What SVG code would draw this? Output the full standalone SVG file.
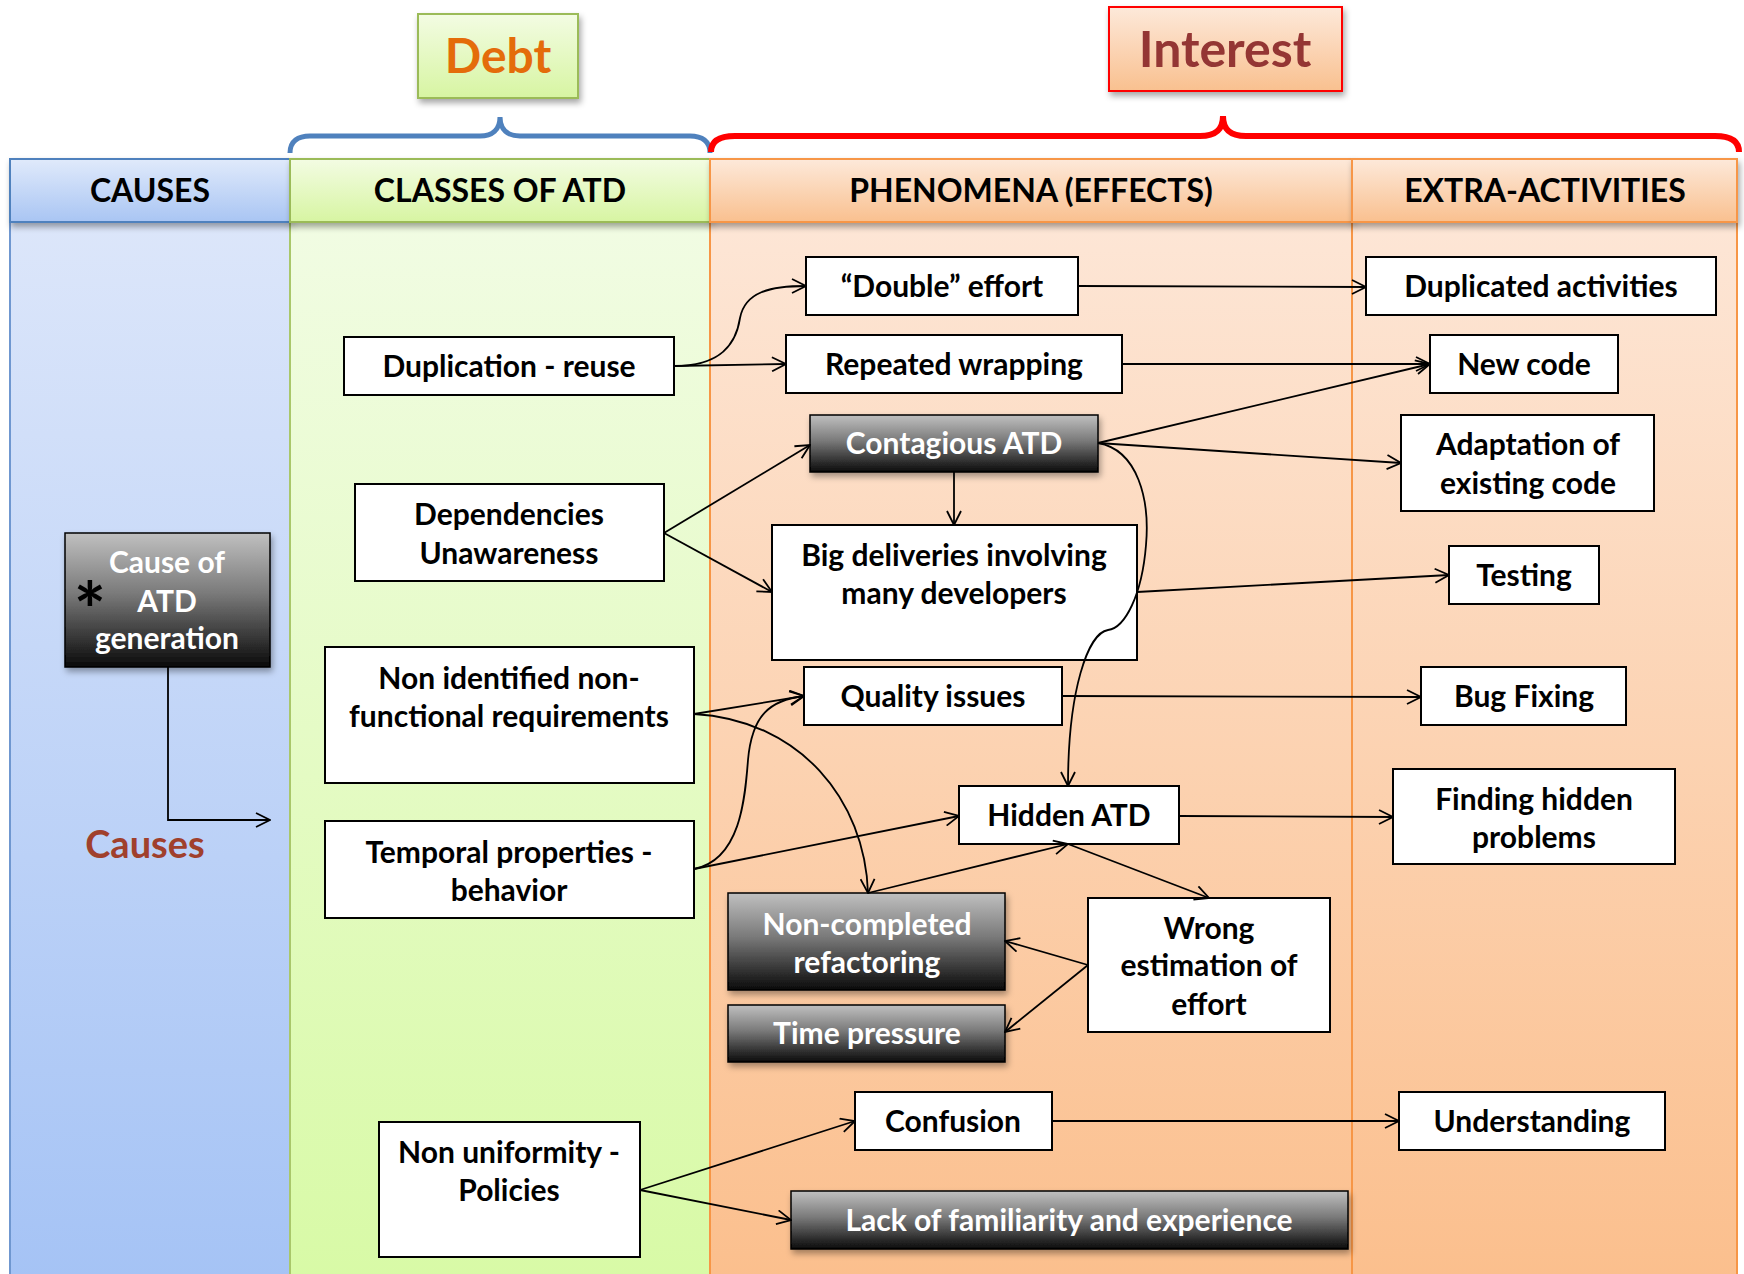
<svg xmlns="http://www.w3.org/2000/svg" width="1744" height="1274" viewBox="0 0 1744 1274">
<defs>
<linearGradient id="gBlueH" x1="0" y1="0" x2="0" y2="1"><stop offset="0" stop-color="#E0EAFB"/><stop offset="1" stop-color="#A9C5F3"/></linearGradient>
<linearGradient id="gGreenH" x1="0" y1="0" x2="0" y2="1"><stop offset="0" stop-color="#F3FCE3"/><stop offset="1" stop-color="#D7F5A2"/></linearGradient>
<linearGradient id="gOrangeH" x1="0" y1="0" x2="0" y2="1"><stop offset="0" stop-color="#FDE9DA"/><stop offset="1" stop-color="#F9C08F"/></linearGradient>
<linearGradient id="gBlueB" x1="0" y1="0" x2="0" y2="1"><stop offset="0" stop-color="#DCE6FA"/><stop offset="1" stop-color="#A5C3F5"/></linearGradient>
<linearGradient id="gGreenB" x1="0" y1="0" x2="0" y2="1"><stop offset="0" stop-color="#F1FCE3"/><stop offset="1" stop-color="#D8FAA6"/></linearGradient>
<linearGradient id="gOrangeB" x1="0" y1="0" x2="0" y2="1"><stop offset="0" stop-color="#FDE6D6"/><stop offset="1" stop-color="#FBBF8D"/></linearGradient>
<linearGradient id="gDark" x1="0" y1="0" x2="0" y2="1"><stop offset="0" stop-color="#C0C0C0"/><stop offset="0.45" stop-color="#7A7A7A"/><stop offset="1" stop-color="#0A0A0A"/></linearGradient>
<filter id="sh" x="-10%" y="-10%" width="130%" height="140%"><feDropShadow dx="2" dy="4" stdDeviation="3" flood-color="#000" flood-opacity="0.35"/></filter>
<marker id="arr" viewBox="0 0 16 16" refX="15" refY="8" markerWidth="16" markerHeight="16" markerUnits="userSpaceOnUse" orient="auto"><path d="M1,1 L15,8 L1,15" fill="none" stroke="#000" stroke-width="1.8"/></marker>
</defs>
<style>
.box{fill:#fff;stroke:#000;stroke-width:2}
.dark{fill:url(#gDark);stroke:#000;stroke-width:1.5;filter:url(#sh)}
.t{font-family:Lato,"Liberation Sans",sans-serif;font-weight:700;font-size:30px;text-anchor:middle;fill:#000}
.tw{fill:#fff}
.hd{font-family:Lato,"Liberation Sans",sans-serif;font-weight:700;font-size:32px;text-anchor:middle;fill:#000}
.conn path{stroke:#000;stroke-width:1.8;fill:none;marker-end:url(#arr)}
</style>
<rect width="1744" height="1274" fill="#fff"/>
<g id="columns">
<rect x="10" y="222" width="280" height="1060" fill="url(#gBlueB)" stroke="#6F97D0" stroke-width="2"/>
<rect x="290" y="222" width="420" height="1060" fill="url(#gGreenB)" stroke="#A9C76A" stroke-width="2"/>
<rect x="710" y="222" width="642" height="1060" fill="url(#gOrangeB)" stroke="#F79646" stroke-width="2"/>
<rect x="1352" y="222" width="385" height="1060" fill="url(#gOrangeB)" stroke="#F79646" stroke-width="2"/>
<rect x="10" y="159" width="280" height="63" fill="url(#gBlueH)" stroke="#4F81BD" stroke-width="2" filter="url(#sh)"/>
<rect x="290" y="159" width="420" height="63" fill="url(#gGreenH)" stroke="#9BBB59" stroke-width="2" filter="url(#sh)"/>
<rect x="710" y="159" width="642" height="63" fill="url(#gOrangeH)" stroke="#F79646" stroke-width="2" filter="url(#sh)"/>
<rect x="1352" y="159" width="385" height="63" fill="url(#gOrangeH)" stroke="#F79646" stroke-width="2" filter="url(#sh)"/>
<text class="hd" x="150" y="202">CAUSES</text>
<text class="hd" x="500" y="202">CLASSES OF ATD</text>
<text class="hd" x="1031" y="202">PHENOMENA (EFFECTS)</text>
<text class="hd" x="1545" y="202">EXTRA-ACTIVITIES</text>
</g>
<g id="debt">
<rect x="418" y="14" width="160" height="84" fill="url(#gGreenH)" stroke="#9BBB59" stroke-width="2" filter="url(#sh)"/>
<text x="498" y="73" style="font-family:Lato,'Liberation Sans',sans-serif;font-weight:700;font-size:48px;text-anchor:middle;fill:#E46C0A">Debt</text>
<path d="M290,153 C290,141 298,136 310,136 L480,136 C492,136 500,130 500,117 C500,130 508,136 520,136 L690,136 C702,136 710,141 710,153" fill="none" stroke="#4F81BD" stroke-width="5"/>
</g>
<g id="interest">
<rect x="1109" y="7" width="233" height="84" fill="url(#gOrangeH)" stroke="#FF0000" stroke-width="2" filter="url(#sh)"/>
<text x="1225" y="67" style="font-family:Lato,'Liberation Sans',sans-serif;font-weight:700;font-size:50px;text-anchor:middle;fill:#943634">Interest</text>
<path d="M711,152 C711,141 720,136 735,136 L1200,136 C1215,136 1223,130 1223,116 C1223,130 1231,136 1246,136 L1715,136 C1730,136 1739,141 1739,152" fill="none" stroke="#FF0000" stroke-width="6"/>
</g>
<g id="n-cause"><rect class="dark" x="65" y="533" width="205" height="134"/><text class="t tw" x="167" y="573">Cause of</text><text class="t tw" x="167" y="612">ATD</text><text class="t tw" x="167" y="649">generation</text><text x="90" y="638" style="font-family:Lato,'Liberation Sans',sans-serif;font-weight:700;font-size:76px;text-anchor:middle;fill:#000">*</text></g>
<g id="n-causes-label"><text x="145" y="858" style="font-family:Lato,'Liberation Sans',sans-serif;font-weight:700;font-size:38px;text-anchor:middle;fill:#A0402C">Causes</text></g>
<g id="n-dup"><rect class="box" x="344" y="337" width="330" height="58"/><text class="t" x="509" y="377">Duplication - reuse</text></g>
<g id="n-dep"><rect class="box" x="355" y="484" width="309" height="97"/><text class="t" x="509" y="525">Dependencies</text><text class="t" x="509" y="564">Unawareness</text></g>
<g id="n-nfr"><rect class="box" x="325" y="647" width="369" height="136"/><text class="t" x="509" y="689">Non identified non-</text><text class="t" x="509" y="727">functional requirements</text></g>
<g id="n-temp"><rect class="box" x="325" y="821" width="369" height="97"/><text class="t" x="509" y="863">Temporal properties -</text><text class="t" x="509" y="901">behavior</text></g>
<g id="n-nonuni"><rect class="box" x="379" y="1122" width="261" height="135"/><text class="t" x="509" y="1163">Non uniformity -</text><text class="t" x="509" y="1201">Policies</text></g>
<g id="n-double"><rect class="box" x="806" y="257" width="272" height="58"/><text class="t" x="942" y="297">“Double” effort</text></g>
<g id="n-wrap"><rect class="box" x="786" y="335" width="336" height="58"/><text class="t" x="954" y="375">Repeated wrapping</text></g>
<g id="n-contag"><rect class="dark" x="810" y="415" width="288" height="57"/><text class="t tw" x="954" y="454">Contagious ATD</text></g>
<g id="n-big"><rect class="box" x="772" y="525" width="365" height="135"/><text class="t" x="954" y="566">Big deliveries involving</text><text class="t" x="954" y="604">many developers</text></g>
<g id="n-quality"><rect class="box" x="804" y="667" width="258" height="58"/><text class="t" x="933" y="707">Quality issues</text></g>
<g id="n-hidden"><rect class="box" x="959" y="786" width="220" height="58"/><text class="t" x="1069" y="826">Hidden ATD</text></g>
<g id="n-noncomp"><rect class="dark" x="728" y="893" width="277" height="97"/><text class="t tw" x="867" y="935">Non-completed</text><text class="t tw" x="867" y="973">refactoring</text></g>
<g id="n-wrong"><rect class="box" x="1088" y="898" width="242" height="134"/><text class="t" x="1209" y="939">Wrong</text><text class="t" x="1209" y="976">estimation of</text><text class="t" x="1209" y="1015">effort</text></g>
<g id="n-time"><rect class="dark" x="728" y="1005" width="277" height="57"/><text class="t tw" x="867" y="1044">Time pressure</text></g>
<g id="n-confusion"><rect class="box" x="855" y="1092" width="197" height="58"/><text class="t" x="953" y="1132">Confusion</text></g>
<g id="n-lack"><rect class="dark" x="791" y="1191" width="557" height="58"/><text class="t tw" x="1069" y="1231">Lack of familiarity and experience</text></g>
<g id="n-dupact"><rect class="box" x="1366" y="257" width="350" height="58"/><text class="t" x="1541" y="297">Duplicated activities</text></g>
<g id="n-newcode"><rect class="box" x="1430" y="335" width="188" height="58"/><text class="t" x="1524" y="375">New code</text></g>
<g id="n-adapt"><rect class="box" x="1401" y="415" width="253" height="96"/><text class="t" x="1528" y="455">Adaptation of</text><text class="t" x="1528" y="494">existing code</text></g>
<g id="n-testing"><rect class="box" x="1449" y="546" width="150" height="58"/><text class="t" x="1524" y="586">Testing</text></g>
<g id="n-bug"><rect class="box" x="1421" y="667" width="205" height="58"/><text class="t" x="1524" y="707">Bug Fixing</text></g>
<g id="n-finding"><rect class="box" x="1393" y="769" width="282" height="95"/><text class="t" x="1534" y="810">Finding hidden</text><text class="t" x="1534" y="848">problems</text></g>
<g id="n-understand"><rect class="box" x="1399" y="1092" width="266" height="58"/><text class="t" x="1532" y="1132">Understanding</text></g>
<g id="connectors" class="conn">
<path d="M168,667 L168,820 L270,820"/>
<path d="M674,366 C720,366 736,345 740,318 C745,292 770,286 806,286"/>
<path d="M674,366 L786,364"/>
<path d="M664,533 L810,445"/>
<path d="M664,533 L772,592"/>
<path d="M954,472 L954,525"/>
<path d="M1098,443 L1430,364"/>
<path d="M1098,443 L1401,463"/>
<path d="M1098,443 C1138,450 1150,500 1146,545 C1142,595 1125,628 1108,630 C1088,633 1068,690 1068,786"/>
<path d="M1137,592 L1449,575"/>
<path d="M1078,286 L1366,287"/>
<path d="M1122,364 L1430,364"/>
<path d="M694,714 L804,696"/>
<path d="M694,714 C800,720 865,800 868,893"/>
<path d="M694,869 C740,860 745,800 748,760 C752,715 770,700 804,696"/>
<path d="M694,869 L959,816"/>
<path d="M868,893 L1068,844"/>
<path d="M1068,844 L1209,898"/>
<path d="M1088,965 L1005,941"/>
<path d="M1088,965 L1005,1032"/>
<path d="M1062,696 L1421,697"/>
<path d="M1179,816 L1393,817"/>
<path d="M640,1190 L855,1121"/>
<path d="M640,1190 L791,1220"/>
<path d="M1052,1121 L1399,1121"/>
</g>
</svg>
